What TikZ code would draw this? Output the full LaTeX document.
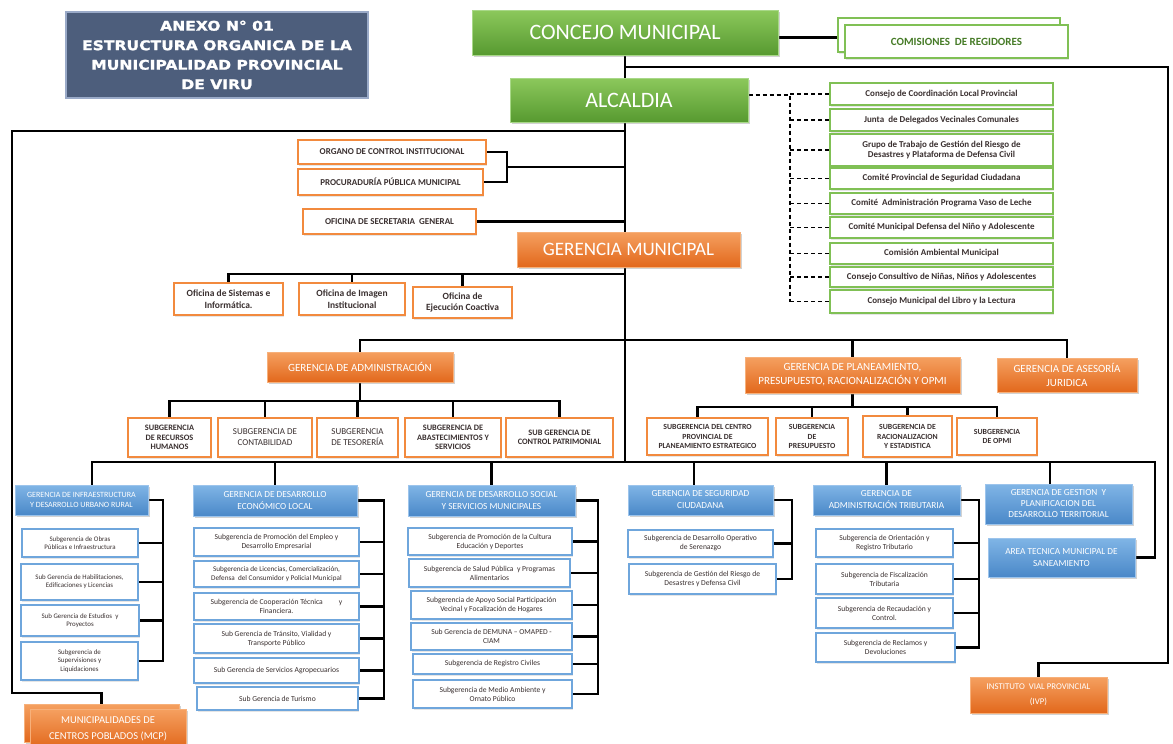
\documentclass[tikz,border=0pt]{standalone}
\usepackage{fontspec}
\setmainfont{Carlito}
\newfontfamily\titlefont[FakeStretch=1.17,FakeBold=1.5]{DejaVu Sans}
\usetikzlibrary{shadows}
\pgfdeclarelayer{back}
\pgfdeclarelayer{bg}
\pgfsetlayers{back,bg,main}
\definecolor{grT}{HTML}{8CC85C}
\definecolor{grB}{HTML}{579A30}
\definecolor{grL}{HTML}{A8D888}
\definecolor{grBd}{HTML}{80C055}
\definecolor{orT}{HTML}{F5A060}
\definecolor{orB}{HTML}{E2681C}
\definecolor{orL}{HTML}{F7B07A}
\definecolor{orBd}{HTML}{F28A3E}
\definecolor{blT}{HTML}{80B5E6}
\definecolor{blB}{HTML}{4A88C8}
\definecolor{blL}{HTML}{9CC4EC}
\definecolor{blBd}{HTML}{6FA6DC}
\definecolor{ttlC}{HTML}{4D5E7C}
\definecolor{ttlBd}{HTML}{9AAAC8}
\definecolor{txt}{HTML}{3A3030}
\newcommand\fs[2]{\fontsize{#1}{#2}\selectfont}
\newcommand\bx[7]{%
 \pgfmathsetmacro\bxw{#5-(#3)}%
 \pgfmathsetmacro\bxh{#6-(#4)}%
 \pgfmathsetmacro\bxcx{(#3+#5)/2}%
 \pgfmathsetmacro\bxcy{(#4+#6)/2}%
 \node[#2,minimum width=\bxw pt,minimum height=\bxh pt,inner xsep=1pt,inner ysep=0pt,align=center] (#1) at (\bxcx,\bxcy) {#7};}
\begin{document}
\begin{tikzpicture}[x=1pt,y=-1pt,
 conn/.style={line width=2.6pt,black},
 dconn/.style={line width=1.6pt,black,dash pattern=on 4pt off 3pt},
 shd/.style={drop shadow={opacity=.35,shadow xshift=1.5pt,shadow yshift=-2pt}},
 lshd/.style={drop shadow={opacity=.2,shadow xshift=1pt,shadow yshift=-1.5pt}},
 grn/.style={top color=grT,bottom color=grB,draw=grL,line width=1pt,text=white,font=\fs{22}{24},shd},
 ttl/.style={fill=ttlC,draw=ttlBd,line width=1.2pt,text=white,font=\titlefont\bfseries\fs{13.3}{19.5}},
 cbox/.style={draw=grBd,line width=1.8pt,fill=white,text=txt,font=\bfseries\fs{9}{10.5},lshd},
 obox/.style={draw=orBd,line width=1.8pt,fill=white,text=txt,font=\bfseries\fs{9}{10.5},lshd},
 asub/.style={obox,font=\bfseries\fs{8.3}{9.6}},
 oger/.style={top color=orT,bottom color=orB,draw=orL,line width=.6pt,text=white,font=\fs{11}{14},shd},
 bger/.style={top color=blT,bottom color=blB,draw=blL,line width=.6pt,text=white,font=\fs{9.3}{12},shd},
 bsub/.style={draw=blBd,line width=1.5pt,fill=white,text=txt,font=\fs{7.6}{9},lshd}]
\useasboundingbox (0,0) rectangle (1173,744);
\begin{pgfonlayer}{back}
\fill[white] (0,0) rectangle (1173,744);
\end{pgfonlayer}

% title
\bx{title}{ttl}{66}{12}{368}{98}{ANEXO N° 01\\ESTRUCTURA ORGANICA DE LA\\MUNICIPALIDAD PROVINCIAL\\DE VIRU}

% top
\bx{cm}{grn}{472}{10}{778}{55}{CONCEJO MUNICIPAL}
\bx{comb}{cbox}{838}{18}{1060}{52}{}
\bx{com}{cbox,font=\bfseries\fs{11}{12},text=grB!80!black}{845}{25}{1068}{58}{COMISIONES\ \ DE REGIDORES}
\bx{al}{grn}{510}{78}{748}{122}{ALCALDIA}

% committees
\bx{c1}{cbox}{830}{83}{1053}{105}{Consejo de Coordinación Local Provincial}
\bx{c2}{cbox}{830}{109}{1053}{131}{Junta\ \ de Delegados Vecinales Comunales}
\bx{c3}{cbox}{830}{134}{1053}{166}{Grupo de Trabajo de Gestión del Riesgo de\\Desastres y Plataforma de Defensa Civil}
\bx{c4}{cbox}{830}{168}{1053}{189}{Comité Provincial de Seguridad Ciudadana}
\bx{c5}{cbox}{830}{193}{1053}{214}{Comité\ \ Administración Programa Vaso de Leche}
\bx{c6}{cbox}{830}{217}{1053}{238}{Comité Municipal Defensa del Niño y Adolescente}
\bx{c7}{cbox}{830}{243}{1053}{264}{Comisión Ambiental Municipal}
\bx{c8}{cbox}{830}{267}{1053}{287}{Consejo Consultivo de Niñas, Niños y Adolescentes}
\bx{c9}{cbox}{830}{290}{1053}{313}{Consejo Municipal del Libro y la Lectura}

% staff offices
\bx{oci}{obox}{298}{140}{486}{164}{ORGANO DE CONTROL INSTITUCIONAL}
\bx{ppm}{obox}{298}{169}{483}{195}{PROCURADURÍA PÚBLICA MUNICIPAL}
\bx{sec}{obox}{303}{209}{476}{234}{OFICINA DE SECRETARIA\ \ GENERAL}
\bx{gm}{oger,font=\fs{19}{22}}{517}{232}{740}{267}{GERENCIA MUNICIPAL}
\bx{osi}{obox,font=\bfseries\fs{9.5}{11.5}}{174}{283}{283}{315}{Oficina de Sistemas e\\Informática.}
\bx{oim}{obox,font=\bfseries\fs{9.5}{11.5}}{299}{283}{405}{315}{Oficina de Imagen\\Institucional}
\bx{oec}{obox,font=\bfseries\fs{9.5}{11.5}}{413}{287}{512}{318}{Oficina de\\Ejecución Coactiva}

% gerencias (line)
\bx{gad}{oger}{267}{352}{453}{382}{GERENCIA DE ADMINISTRACIÓN}
\bx{gpl}{oger}{745}{357}{960}{393}{GERENCIA DE PLANEAMIENTO,\\PRESUPUESTO, RACIONALIZACIÓN Y OPMI}
\bx{gaj}{oger}{997}{358}{1137}{392}{GERENCIA DE ASESORÍA\\JURIDICA}

\bx{s1}{asub}{128}{418}{211}{457}{SUBGERENCIA\\DE RECURSOS\\HUMANOS}
\bx{s2}{asub,font=\fs{9}{11}}{218}{418}{312}{457}{SUBGERENCIA DE\\CONTABILIDAD}
\bx{s3}{asub,font=\fs{9}{11}}{317}{418}{398}{457}{SUBGERENCIA\\DE TESORERÍA}
\bx{s4}{asub}{405}{418}{501}{457}{SUBGERENCIA DE\\ABASTECIMIENTOS Y\\SERVICIOS}
\bx{s5}{asub}{506}{418}{613}{457}{SUB GERENCIA DE\\CONTROL PATRIMONIAL}

\bx{p1}{asub,font=\bfseries\fs{7.8}{9.2}}{647}{418}{768}{455}{SUBGERENCIA DEL CENTRO\\PROVINCIAL DE\\PLANEAMIENTO ESTRATEGICO}
\bx{p2}{asub,font=\bfseries\fs{7.8}{9.2}}{776}{418}{848}{455}{SUBGERENCIA\\DE\\PRESUPUESTO}
\bx{p3}{asub,font=\bfseries\fs{7.8}{9.2}}{863}{416}{952}{457}{SUBGERENCIA DE\\RACIONALIZACION\\Y ESTADISTICA}
\bx{p4}{asub,font=\bfseries\fs{7.8}{9.2}}{957}{418}{1037}{455}{SUBGERENCIA\\DE OPMI}

% bottom gerencias
\bx{g1}{bger,font=\fs{8}{10.5}}{15}{485}{148}{515}{GERENCIA DE INFRAESTRUCTURA\\Y DESARROLLO URBANO RURAL}
\bx{g2}{bger}{193}{485}{357}{516}{GERENCIA DE DESARROLLO\\ECONÓMICO LOCAL}
\bx{g3}{bger}{408}{485}{575}{516}{GERENCIA DE DESARROLLO SOCIAL\\Y SERVICIOS MUNICIPALES}
\bx{g4}{bger}{628}{485}{773}{515}{GERENCIA DE SEGURIDAD\\CIUDADANA}
\bx{g5}{bger}{813}{485}{960}{515}{GERENCIA DE\\ADMINISTRACIÓN TRIBUTARIA}
\bx{g6}{bger,font=\fs{9.3}{11}}{985}{484}{1132}{524}{GERENCIA DE GESTION\ \ Y\\PLANIFICACION DEL\\DESARROLLO TERRITORIAL}
\bx{ats}{bger}{988}{538}{1135}{577}{AREA TECNICA MUNICIPAL DE\\SANEAMIENTO}

\bx{a1}{bsub,font=\fs{6.9}{8.2}}{22}{529}{138}{557}{Subgerencia de Obras\\Públicas e Infraestructura}
\bx{a2}{bsub,font=\fs{6.9}{8.2}}{21}{564}{138}{600}{Sub Gerencia de Habilitaciones,\\Edificaciones y Licencias}
\bx{a3}{bsub,font=\fs{6.9}{8.2}}{21}{605}{139}{636}{Sub Gerencia de Estudios\ \ y\\Proyectos}
\bx{a4}{bsub,font=\fs{6.9}{8.2}}{21}{642}{138}{680}{Subgerencia de\\Supervisiones y\\Liquidaciones}

\bx{e1}{bsub}{194}{528}{359}{556}{Subgerencia de Promoción del Empleo y\\Desarrollo Empresarial}
\bx{e2}{bsub,font=\fs{7.2}{8.4}}{194}{561}{359}{587}{Subgerencia de Licencias, Comercialización,\\Defensa\ \ del Consumidor y Policial Municipal}
\bx{e3}{bsub}{194}{593}{359}{620}{Subgerencia de Cooperación Técnica\hspace{16pt}y\\Financiera.}
\bx{e4}{bsub}{194}{624}{359}{653}{Sub Gerencia de Tránsito, Vialidad y\\Transporte Público}
\bx{e5}{bsub}{194}{658}{359}{683}{Sub Gerencia de Servicios Agropecuarios}
\bx{e6}{bsub}{197}{687}{358}{710}{Sub Gerencia de Turismo}

\bx{f1}{bsub}{408}{528}{572}{555}{Subgerencia de Promoción de la Cultura\\Educación y Deportes}
\bx{f2}{bsub}{409}{559}{570}{587}{Subgerencia de Salud Pública\ \ y Programas\\Alimentarios}
\bx{f3}{bsub}{411}{591}{572}{619}{Subgerencia de Apoyo Social Participación\\Vecinal y Focalización de Hogares}
\bx{f4}{bsub}{411}{623}{572}{650}{Sub Gerencia de DEMUNA -- OMAPED -\\CIAM}
\bx{f5}{bsub}{413}{654}{572}{674}{Subgerencia de Registro Civiles}
\bx{f6}{bsub}{413}{680}{572}{708}{Subgerencia de Medio Ambiente y\\Ornato Público}

\bx{h1}{bsub}{628}{530}{773}{557}{Subgerencia de Desarrollo Operativo\\de Serenazgo}
\bx{h2}{bsub}{629}{564}{776}{594}{Subgerencia de Gestión del Riesgo de\\Desastres y Defensa Civil}

\bx{k1}{bsub}{816}{529}{953}{557}{Subgerencia de Orientación y\\Registro Tributario}
\bx{k2}{bsub}{816}{564}{953}{594}{Subgerencia de Fiscalización\\Tributaria}
\bx{k3}{bsub}{816}{598}{953}{628}{Subgerencia de Recaudación y\\Control.}
\bx{k4}{bsub}{816}{633}{955}{662}{Subgerencia de Reclamos y\\Devoluciones}

\bx{ivp}{oger,font=\fs{8.8}{15}}{970}{677}{1107}{713}{INSTITUTO\ \ VIAL PROVINCIAL\\(IVP)}
\bx{mcpb}{oger}{24}{704}{179}{742}{}
\bx{mcp}{oger,font=\fs{10.5}{16}}{30}{709}{186}{748}{MUNICIPALIDADES DE\\CENTROS POBLADOS (MCP)}

% connectors
\coordinate (r0) at (1168,67);
\coordinate (r1) at (1168,663);
\coordinate (l0) at (12,131);
\coordinate (l1) at (12,693);
\coordinate (d0) at (790,95);
\coordinate (o0) at (507,167);
\coordinate (ob) at (0,274);
\coordinate (gb) at (0,340);
\coordinate (ab) at (0,401);
\coordinate (pb) at (0,407);
\coordinate (bb) at (1155,462);
\coordinate (ra) at (163,0);
\coordinate (re) at (384,0);
\coordinate (rf) at (598,0);
\coordinate (rh) at (792,0);
\coordinate (rk) at (979,0);
\begin{pgfonlayer}{bg}
\draw[conn] ([yshift=-5pt]cm.east) -- ([yshift=-5pt]cm.east -| comb.west);
\draw[conn] (cm.south) -- (cm.south |- bb);
\draw[conn] (cm.south |- r0) -- (r0) -- (r1) -| (ivp.north);
\draw[conn] (cm.south |- l0) -- (l0) -- (l1) -| (mcpb.north);
\draw[dconn] (al.east |- d0) -- (d0) -- (d0 |- c9.west);
\foreach \c in {c1,c2,c3,c4,c5,c6,c7,c8,c9} \draw[dconn] (d0 |- \c.west) -- (\c.west);
\draw[conn] (oci.east) -| (o0);
\draw[conn] (ppm.east) -| (o0);
\draw[conn] (o0) -- (o0 -| cm.south);
\draw[conn] (sec.east) -- (sec.east -| cm.south);
\draw[conn] (osi.north) |- (cm.south |- ob);
\draw[conn] (oim.north) -- (oim.north |- ob);
\draw[conn] (oec.north) -- (oec.north |- ob);
\draw[conn] (gad.north) |- (gaj.north |- gb) -- (gaj.north);
\draw[conn] (gpl.north) -- (gpl.north |- gb);
\draw[conn] (gad.south) -- (gad.south |- ab);
\draw[conn] (s1.north) |- (s5.north |- ab) -- (s5.north);
\foreach \s in {s2,s3,s4} \draw[conn] (\s.north) -- (\s.north |- ab);
\draw[conn] (gpl.south) -- (gpl.south |- pb);
\draw[conn] ([xshift=-10pt]p1.north) |- (p4.north |- pb) -- (p4.north);
\foreach \s in {p2,p3} \draw[conn] (\s.north) -- (\s.north |- pb);
\draw[conn] ([xshift=10.5pt]g1.north) |- (bb) |- (ats.east);
\draw[conn] ([xshift=-6.5pt]g4.north) -- ([xshift=-6.5pt]g4.north |- bb);
\draw[conn] ([xshift=-8.5pt]g6.north) -- ([xshift=-8.5pt]g6.north |- bb);
\foreach \g in {g2,g3,g5} \draw[conn] (\g.north) -- (\g.north |- bb);
\draw[conn] (g1.east) -| (ra |- a4.east) -- (a4.east);
\foreach \s in {a1,a2,a3} \draw[conn] (\s.east) -- (\s.east -| ra);
\draw[conn] (g2.east) -| (re |- e6.east) -- (e6.east);
\foreach \s in {e1,e2,e3,e4,e5} \draw[conn] (\s.east) -- (\s.east -| re);
\draw[conn] (g3.east) -| (rf |- f6.east) -- (f6.east);
\foreach \s in {f1,f2,f3,f4,f5} \draw[conn] (\s.east) -- (\s.east -| rf);
\draw[conn] (g4.east) -| (rh |- h2.east) -- (h2.east);
\draw[conn] (h1.east) -- (h1.east -| rh);
\draw[conn] (g5.east) -| (rk |- k4.east) -- (k4.east);
\foreach \s in {k1,k2,k3} \draw[conn] (\s.east) -- (\s.east -| rk);
\end{pgfonlayer}
\end{tikzpicture}
\end{document}
